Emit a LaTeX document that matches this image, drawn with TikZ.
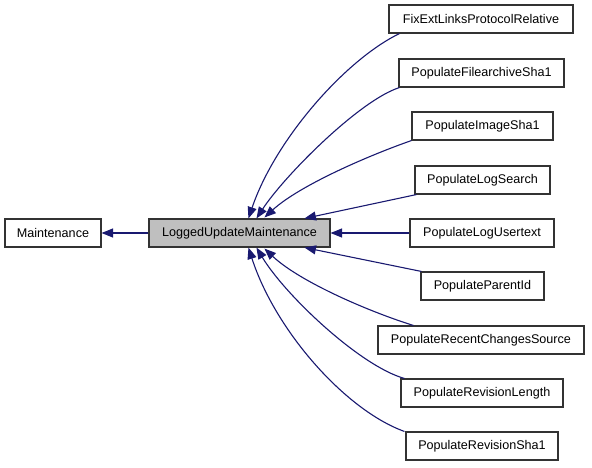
\documentclass[tikz,border=0pt]{standalone}
\usepackage{fontspec}
\setmainfont{Liberation Sans}
\usetikzlibrary{arrows.meta}
\definecolor{edgeblue}{HTML}{191970}
\definecolor{boxgray}{HTML}{BFBFBF}
\begin{document}
\begin{tikzpicture}[x=1pt,y=-1pt,
  cls/.style={draw=black!80, line width=1.1pt, fill=white, minimum height=28pt, inner sep=0pt,
    font=\fontsize{12.6}{14}\selectfont, anchor=center},
  edge/.style={draw=edgeblue, line width=1.1pt, -{Triangle[length=11.5pt,width=9pt]}, color=edgeblue}]
\useasboundingbox (0,0) rectangle (592,467);
\node[cls, minimum width=96pt] (mnt) at (53,233) {Maintenance};
\node[cls, minimum width=181pt, fill=boxgray] (lum) at (239.5,233) {LoggedUpdateMaintenance};
\node[cls, minimum width=184pt] (fix) at (481,19) {FixExtLinksProtocolRelative};
\node[cls, minimum width=165pt] (pfa) at (481.5,73) {PopulateFilearchiveSha1};
\node[cls, minimum width=141pt] (pis) at (482.5,126) {PopulateImageSha1};
\node[cls, minimum width=135pt] (pls) at (482.5,180) {PopulateLogSearch};
\node[cls, minimum width=144pt] (plu) at (482,233) {PopulateLogUsertext};
\node[cls, minimum width=123pt] (ppi) at (482.5,286) {PopulateParentId};
\node[cls, minimum width=206pt] (prc) at (481,340) {PopulateRecentChangesSource};
\node[cls, minimum width=162pt] (prl) at (482,393) {PopulateRevisionLength};
\node[cls, minimum width=152pt] (prs) at (482,446) {PopulateRevisionSha1};

\draw[edge] (lum.west) -- (mnt.east);
\draw[edge] ([xshift=11pt]fix.south west) .. controls (345,60) and (275,140) .. ([xshift=100pt]lum.north west);
\draw[edge] ([xshift=1pt]pfa.south west) .. controls (360,100) and (285,175) .. ([xshift=108pt]lum.north west);
\draw[edge] (pis.south west) .. controls (370,155) and (300,185) .. ([xshift=116pt,yshift=1pt]lum.north west);
\draw[edge] ([xshift=2pt]pls.south west) -- ([xshift=156pt]lum.north west);
\draw[edge] (plu.west) -- (lum.east);
\draw[edge] ([xshift=1pt]ppi.north west) -- ([xshift=156pt]lum.south west);
\draw[edge] ([xshift=36pt]prc.north west) .. controls (370,312) and (300,282) .. ([xshift=116pt,yshift=-1pt]lum.south west);
\draw[edge] ([xshift=4pt]prl.north west) .. controls (360,366) and (285,295) .. ([xshift=108pt]lum.south west);
\draw[edge] ([xshift=-1pt]prs.north west) .. controls (345,410) and (275,330) .. ([xshift=100pt]lum.south west);
\end{tikzpicture}
\end{document}
